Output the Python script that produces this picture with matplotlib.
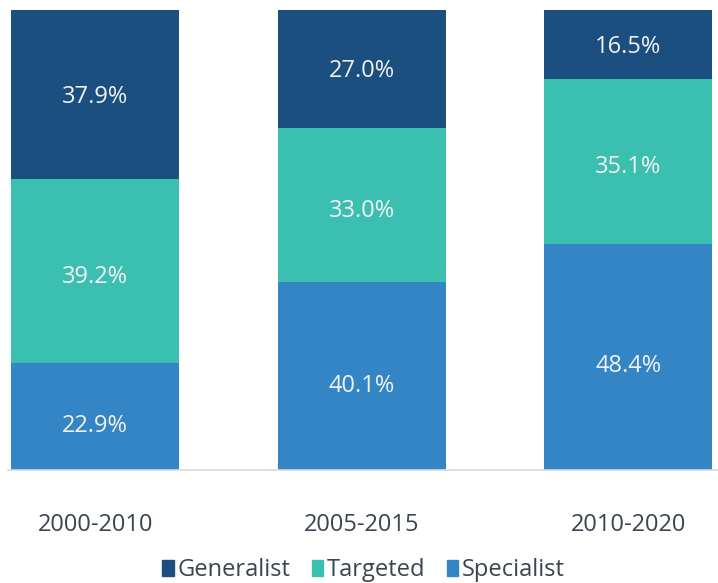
import numpy as np
import matplotlib
matplotlib.use("Agg")
import matplotlib.pyplot as plt
from matplotlib.patches import Patch

plt.rcParams["font.family"] = ["Open Sans", "DejaVu Sans"]

periods = ["2000-2010", "2005-2015", "2010-2020"]
specialist = [22.9, 40.1, 48.4]
targeted = [39.2, 33.0, 35.1]
generalist = [37.9, 27.0, 16.5]

colors = {"Generalist": "#1a4f7f", "Targeted": "#3bbfb0", "Specialist": "#3385c6"}

fig = plt.figure(figsize=(7.18, 5.83), dpi=100)
ax = fig.add_axes([8 / 718, 113 / 583, 710 / 718, 460 / 583])

x = np.arange(len(periods))
w = 0.63
ytop = 98.3  # top of the bars is cut off in the original
spec = np.array(specialist)
targ = np.array(targeted)
gen = np.array(generalist)

ax.bar(x, spec, w, color=colors["Specialist"])
ax.bar(x, targ, w, bottom=spec, color=colors["Targeted"])
ax.bar(x, gen, w, bottom=spec + targ, color=colors["Generalist"])

# label offset (points) per series, labels sit a little low in the original
for vals, bottoms, dy in [(spec, np.zeros(3), -7), (targ, spec, -4), (gen, spec + targ, -1.5)]:
    for xi, v, b in zip(x, vals, bottoms):
        top = min(b + v, ytop)
        ax.annotate(f"{v:.1f}%", (xi, (b + top) / 2), xytext=(0, dy),
                    textcoords="offset points", ha="center", va="center",
                    color="#f2f2f2", fontsize=17)

ax.set_xlim(-0.327, 2.337)
ax.set_ylim(0, ytop)
for s in ["top", "right", "left"]:
    ax.spines[s].set_visible(False)
ax.spines["bottom"].set_color("#d9d9d9")
ax.spines["bottom"].set_linewidth(1.2)
ax.set_yticks([])
ax.set_xticks(x)
ax.set_xticklabels(periods, fontsize=17, color="#3a4452")
ax.tick_params(axis="x", length=0, pad=31)

handles = [Patch(color=colors[k]) for k in ["Generalist", "Targeted", "Specialist"]]
fig.legend(handles, ["Generalist", "Targeted", "Specialist"], loc="center",
           bbox_to_anchor=(363.5 / 718, 13 / 583), ncol=3, frameon=False,
           fontsize=17, labelcolor="#3a4452", handlelength=0.47, handleheight=0.68,
           handletextpad=0.17, columnspacing=0.9, borderpad=0, borderaxespad=0)

fig.savefig("out.png", dpi=100)
